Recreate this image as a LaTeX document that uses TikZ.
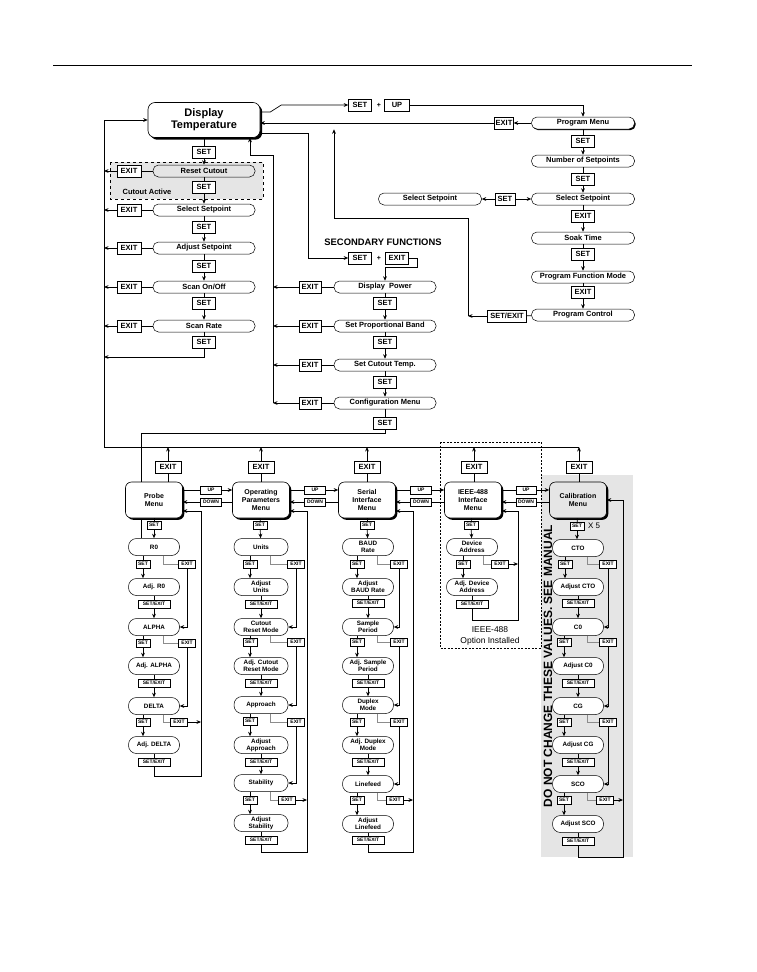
\documentclass[tikz,border=0pt]{standalone}
\usepackage{fontspec}
\setmainfont{Liberation Sans}
\usetikzlibrary{arrows.meta, positioning, shadows, backgrounds}
\tikzstyle{dispmenu} = [rectangle, rounded corners=7pt, draw=black, line width=0.6pt, fill=white,
    minimum width=112pt, minimum height=35pt, align=center, inner sep=1pt,
    font=\fontsize{11}{12}\selectfont\bfseries,
    drop shadow={shadow xshift=2.2pt, shadow yshift=-2.2pt, fill=black, opacity=1}]
\tikzstyle{pill} = [rectangle, rounded corners=5.5pt, draw=black, line width=0.5pt, fill=white,
    minimum width=102pt, minimum height=12pt, inner sep=1pt, font=\fontsize{7.5}{8}\selectfont\bfseries]
\tikzstyle{keybox} = [rectangle, draw=black, line width=0.6pt, fill=white, minimum width=23pt,
    minimum height=12pt, inner sep=1pt, font=\fontsize{7.5}{8}\selectfont\bfseries]
\tikzstyle{menu} = [rectangle, rounded corners=6pt, draw=black, line width=0.6pt, fill=white,
    minimum width=57pt, minimum height=36pt, align=center, inner sep=1pt,
    font=\fontsize{7}{8}\selectfont\bfseries,
    drop shadow={shadow xshift=1.8pt, shadow yshift=-1.8pt, fill=black, opacity=1}]
\tikzstyle{sub} = [rectangle, rounded corners=8pt, draw=black, line width=0.5pt, fill=white,
    minimum width=51pt, minimum height=17pt, align=center, inner sep=1pt,
    font=\fontsize{6.3}{6.8}\selectfont\bfseries]
\tikzstyle{tinykey} = [rectangle, draw=black, line width=0.5pt, fill=white, minimum width=14pt,
    minimum height=7.5pt, inner sep=0.8pt, font=\fontsize{5}{5}\selectfont\bfseries]
\tikzstyle{arrow} = [line width=0.7pt, -{Stealth[length=4.5pt, width=3.8pt]}]
\tikzstyle{link} = [line width=0.7pt]
\tikzstyle{faint} = [draw=black!45, line width=0.6pt]
\tikzstyle{heading} = [font=\fontsize{9.4}{10}\selectfont\bfseries]
\tikzstyle{plain} = [font=\fontsize{7}{8}\selectfont\bfseries, inner sep=0pt]

\begin{document}
\begin{tikzpicture}[x=1pt, y=-1pt]
\useasboundingbox (0,0) rectangle (756,972);
\draw[line width=1pt] (53,65) -- (692,65);

\fill[gray!20] (541,475) rectangle (633,857);
\draw[dashed, fill=gray!20, line width=0.6pt] (110,162) rectangle (263,199);
\draw[line width=0.6pt, dash pattern=on 2pt off 1.5pt] (440,442) rectangle (541,648);
\node (warn) [rotate=90, font=\fontsize{12}{12}\selectfont\bfseries] at (548,666) {DO NOT CHANGE THESE VALUES. SEE MANUAL};
\node (opt) [font=\fontsize{8.5}{11}\selectfont, align=center] at (490,636) {IEEE-488\\Option Installed};

\coordinate (busbot) at (104,447);
\coordinate (busend) at (579,447);
\coordinate (srturn) at (104,357);
\coordinate (secbot) at (273,403);
\coordinate (secturn) at (250,155);
\coordinate (secin) at (308,258);
\coordinate (pcturn) at (468,316);
\coordinate (pcup) at (334,218);
\coordinate (cfgturn) at (141,433);

\node (disp) [dispmenu] at (204,120) {Display\\Temperature};
\node (setA) [keybox] at (204,152) {SET};
\node (rcut) [pill, fill=gray!20] at (204,171) {Reset Cutout};
\node (cutlbl) [plain, font=\fontsize{7.5}{8}\selectfont\bfseries] at (147,192) {Cutout Active};
\node (setB) [keybox] at (204,187) {SET};
\node (selsp) [pill] at (204,210) {Select Setpoint};
\node (setC) [keybox] at (204,227) {SET};
\node (adjsp) [pill] at (204,248) {Adjust Setpoint};
\node (setD) [keybox] at (204,266) {SET};
\node (scan) [pill] at (204,287) {Scan On/Off};
\node (setE) [keybox] at (204,303) {SET};
\node (srate) [pill] at (204,326) {Scan Rate};
\node (setF) [keybox] at (204,342) {SET};
\node (exA) [keybox, minimum width=24pt] at (129,171) {EXIT};
\node (exB) [keybox, minimum width=24pt] at (129,210) {EXIT};
\node (exC) [keybox, minimum width=24pt] at (129,248) {EXIT};
\node (exD) [keybox, minimum width=24pt] at (129,287) {EXIT};
\node (exE) [keybox, minimum width=24pt] at (129,326) {EXIT};

\node (setTop) [keybox] at (360,105) {SET};
\node (plusT) [plain] at (379,105) {+};
\node (upTop) [keybox, minimum width=25pt] at (397,105) {UP};
\node (prog) [pill, minimum width=103pt, drop shadow={shadow xshift=1.2pt, shadow yshift=-1.2pt, fill=black, opacity=1}] at (583,123) {Program Menu};
\node (exitPM) [keybox, minimum width=18pt] at (504,123) {EXIT};
\node (setP1) [keybox] at (583,141) {SET};
\node (numsp) [pill, minimum width=103pt] at (583,161) {Number of Setpoints};
\node (setP2) [keybox] at (583,179) {SET};
\node (selspR) [pill, minimum width=103pt] at (583,199) {Select Setpoint};
\node (setP4) [keybox, minimum width=20pt] at (505,199) {SET};
\node (selspL) [pill, minimum width=103pt] at (430,199) {Select Setpoint};
\node (exitP1) [keybox] at (583,216) {EXIT};
\node (soak) [pill, minimum width=103pt] at (583,238) {Soak Time};
\node (setP3) [keybox] at (583,254) {SET};
\node (pfm) [pill, minimum width=103pt] at (583,277) {Program Function Mode};
\node (exitP2) [keybox] at (583,292) {EXIT};
\node (progctl) [pill, minimum width=103pt] at (583,315) {Program Control};
\node (sePC) [keybox, minimum width=39pt] at (507,316) {SET/EXIT};

\node (sfunc) [heading] at (383,242) {SECONDARY FUNCTIONS};
\node (setSec) [keybox] at (360,258) {SET};
\node (plusS) [plain] at (379,258) {+};
\node (exSec) [keybox] at (397,258) {EXIT};
\node (dpower) [pill] at (385,287) {Display~~Power};
\node (setS1) [keybox] at (385,303) {SET};
\node (propband) [pill] at (385,326) {Set Proportional Band};
\node (setS2) [keybox] at (385,342) {SET};
\node (cutemp) [pill] at (385,365) {Set Cutout Temp.};
\node (setS3) [keybox] at (385,382) {SET};
\node (config) [pill] at (385,403) {Configuration Menu};
\node (setS4) [keybox] at (385,423) {SET};
\node (exS1) [keybox, minimum width=22pt] at (310,287) {EXIT};
\node (exS2) [keybox, minimum width=22pt] at (310,326) {EXIT};
\node (exS3) [keybox, minimum width=22pt] at (310,365) {EXIT};
\node (exS4) [keybox, minimum width=22pt] at (310,403) {EXIT};

\node (probe) [menu] at (154,500) {Probe\\Menu};
\node (opmenu) [menu] at (261,500) {Operating\\Parameters\\Menu};
\node (sermenu) [menu] at (367,500) {Serial\\Interface\\Menu};
\node (ieeemenu) [menu] at (473,500) {IEEE-488\\Interface\\Menu};
\node (calmenu) [menu, fill=gray!20] at (578,500) {Calibration\\Menu};
\node (exPr) [keybox, minimum width=26pt] at (168,467) {EXIT};
\node (exOp) [keybox, minimum width=26pt] at (261,467) {EXIT};
\node (exSe) [keybox, minimum width=26pt] at (367,467) {EXIT};
\node (exIe) [keybox, minimum width=26pt] at (474,467) {EXIT};
\node (exCa) [keybox, minimum width=26pt] at (579,467) {EXIT};
\node (upA) [tinykey, minimum width=21pt] at (211,490) {UP};
\node (downA) [tinykey, minimum width=21pt] at (211,502) {DOWN};
\node (upB) [tinykey, minimum width=21pt] at (315,490) {UP};
\node (downB) [tinykey, minimum width=21pt] at (315,502) {DOWN};
\node (upC) [tinykey, minimum width=21pt] at (421,490) {UP};
\node (downC) [tinykey, minimum width=21pt] at (421,502) {DOWN};
\node (upD) [tinykey, minimum width=20pt] at (526,490) {UP};
\node (downD) [tinykey, minimum width=20pt] at (526,502) {DOWN};

\node (setPr) [tinykey] at (154,525) {SET};
\node (rzero) [sub] at (154,547) {R0};
\node (setRz) [tinykey] at (143,564) {SET};
\node (exRz) [tinykey, minimum width=17pt] at (187,564) {EXIT};
\node (adjRz) [sub] at (154,587) {Adj. R0};
\node (seRz) [tinykey, minimum width=32pt] at (154,604) {SET/EXIT};
\node (alpha) [sub] at (154,627) {ALPHA};
\node (setAl) [tinykey] at (143,643) {SET};
\node (exAl) [tinykey, minimum width=17pt] at (187,643) {EXIT};
\node (adjAl) [sub] at (154,666) {Adj. ALPHA};
\node (seAl) [tinykey, minimum width=32pt] at (154,683) {SET/EXIT};
\node (delta) [sub] at (154,706) {DELTA};
\node (setDl) [tinykey] at (143,722) {SET};
\node (exDl) [tinykey, minimum width=17pt] at (179,722) {EXIT};
\node (adjDl) [sub] at (154,745) {Adj. DELTA};
\node (seDl) [tinykey, minimum width=32pt] at (154,762) {SET/EXIT};
\coordinate (prret) at (201,511);

\node (setOp) [tinykey] at (260,525) {SET};
\node (units) [sub, minimum width=54pt] at (261,547) {Units};
\node (setUn) [tinykey] at (250,564) {SET};
\node (exUn) [tinykey, minimum width=17pt] at (296,564) {EXIT};
\node (adjUn) [sub, minimum width=54pt] at (261,587) {Adjust\\Units};
\node (seUn) [tinykey, minimum width=32pt] at (261,604) {SET/EXIT};
\node (crm) [sub, minimum width=54pt] at (261,627) {Cutout\\Reset Mode};
\node (setCr) [tinykey] at (250,642) {SET};
\node (exCr) [tinykey, minimum width=17pt] at (296,642) {EXIT};
\node (adjCr) [sub, minimum width=54pt] at (261,666) {Adj. Cutout\\Reset Mode};
\node (seCr) [tinykey, minimum width=32pt] at (261,683) {SET/EXIT};
\node (appr) [sub, minimum width=54pt] at (261,705) {Approach};
\node (setAp) [tinykey] at (250,721) {SET};
\node (exAp) [tinykey, minimum width=17pt] at (296,722) {EXIT};
\node (adjAp) [sub, minimum width=54pt] at (261,745) {Adjust\\Approach};
\node (seAp) [tinykey, minimum width=32pt] at (261,762) {SET/EXIT};
\node (stab) [sub, minimum width=54pt] at (261,783) {Stability};
\node (setSt) [tinykey] at (250,800) {SET};
\node (exSt) [tinykey, minimum width=17pt] at (287,800) {EXIT};
\node (adjSt) [sub, minimum width=54pt] at (261,823) {Adjust\\Stability};
\node (seSt) [tinykey, minimum width=32pt] at (261,840) {SET/EXIT};
\coordinate (opret) at (307,511);

\node (setSr) [tinykey] at (367,525) {SET};
\node (baud) [sub] at (368,547) {BAUD\\Rate};
\node (setBd) [tinykey] at (357,564) {SET};
\node (exBd) [tinykey, minimum width=17pt] at (399,564) {EXIT};
\node (adjBd) [sub] at (368,587) {Adjust\\BAUD Rate};
\node (seBd) [tinykey, minimum width=32pt] at (368,603) {SET/EXIT};
\node (samp) [sub] at (368,627) {Sample\\Period};
\node (setSm) [tinykey] at (357,642) {SET};
\node (exSm) [tinykey, minimum width=17pt] at (399,642) {EXIT};
\node (adjSm) [sub] at (368,666) {Adj. Sample\\Period};
\node (seSm) [tinykey, minimum width=32pt] at (368,683) {SET/EXIT};
\node (dup) [sub] at (368,705) {Duplex\\Mode};
\node (setDp) [tinykey] at (357,722) {SET};
\node (exDp) [tinykey, minimum width=17pt] at (399,722) {EXIT};
\node (adjDp) [sub] at (368,745) {Adj. Duplex\\Mode};
\node (seDp) [tinykey, minimum width=32pt] at (368,762) {SET/EXIT};
\node (lfeed) [sub] at (368,784) {Linefeed};
\node (setLf) [tinykey] at (357,800) {SET};
\node (exLf) [tinykey, minimum width=17pt] at (395,800) {EXIT};
\node (adjLf) [sub] at (368,824) {Adjust\\Linefeed};
\node (seLf) [tinykey, minimum width=32pt] at (368,840) {SET/EXIT};
\coordinate (srret) at (413,511);

\node (setIe) [tinykey] at (471,525) {SET};
\node (devad) [sub] at (472,547) {Device\\Address};
\node (setDv) [tinykey] at (463,564) {SET};
\node (exDv) [tinykey, minimum width=17pt] at (500,564) {EXIT};
\node (adjDv) [sub] at (472,587) {Adj. Device\\Address};
\node (seDv) [tinykey, minimum width=32pt] at (472,604) {SET/EXIT};
\coordinate (ieret) at (518,511);

\node (setCa) [tinykey] at (577,526) {SET};
\node (xfive) [font=\fontsize{8}{8}\selectfont, inner sep=0pt] at (594,526) {X 5};
\node (cto) [sub] at (578,548) {CTO};
\node (setCt) [tinykey] at (565,564) {SET};
\node (exCt) [tinykey, minimum width=17pt] at (608,564) {EXIT};
\node (adjCt) [sub] at (578,587) {Adjust CTO};
\node (seCt) [tinykey, minimum width=32pt] at (578,603) {SET/EXIT};
\node (czero) [sub] at (578,627) {C0};
\node (setCz) [tinykey] at (564,642) {SET};
\node (exCz) [tinykey, minimum width=17pt] at (608,642) {EXIT};
\node (adjCz) [sub] at (578,666) {Adjust C0};
\node (seCz) [tinykey, minimum width=32pt] at (578,683) {SET/EXIT};
\node (cgain) [sub] at (578,706) {CG};
\node (setCg) [tinykey] at (564,722) {SET};
\node (exCg) [tinykey, minimum width=17pt] at (608,722) {EXIT};
\node (adjCg) [sub] at (578,745) {Adjust CG};
\node (seCg) [tinykey, minimum width=32pt] at (578,762) {SET/EXIT};
\node (sco) [sub] at (578,784) {SCO};
\node (setSc) [tinykey] at (564,800) {SET};
\node (exSc) [tinykey, minimum width=17pt] at (605,800) {EXIT};
\node (adjSc) [sub] at (578,824) {Adjust SCO};
\node (seSc) [tinykey, minimum width=32pt] at (578,841) {SET/EXIT};
\coordinate (caret) at (623,500);

\begin{scope}[on background layer]
\draw[link] (setS4) |- (cfgturn) -- (cfgturn |- rzero.north);
\end{scope}

\draw[link] (busbot) -- (busend);
\draw[arrow] (busbot) |- (disp.west);
\draw[link] (disp) -- (setA);
\draw[arrow] (setA) -- (rcut);
\draw[link] (rcut) -- (setB);
\draw[arrow] (setB) -- (selsp);
\draw[link] (selsp) -- (setC);
\draw[arrow] (setC) -- (adjsp);
\draw[link] (adjsp) -- (setD);
\draw[arrow] (setD) -- (scan);
\draw[link] (scan) -- (setE);
\draw[arrow] (setE) -- (srate);
\draw[link] (srate) -- (setF);
\draw[arrow] (setF) |- (srturn);
\draw[link] (rcut) -- (exA);
\draw[link] (selsp) -- (exB);
\draw[link] (adjsp) -- (exC);
\draw[link] (scan) -- (exD);
\draw[link] (srate) -- (exE);
\draw[arrow] (exA) -- (exA -| busbot);
\draw[arrow] (exB) -- (exB -| busbot);
\draw[arrow] (exC) -- (exC -| busbot);
\draw[arrow] (exD) -- (exD -| busbot);
\draw[arrow] (exE) -- (exE -| busbot);

\draw[arrow] ([yshift=8pt]disp.east) -- ++(10,0) -- ++(11,-7) -- (setTop);
\draw[arrow] (upTop) -| (prog);
\draw[arrow] (prog) -- (exitPM);
\draw[arrow] (exitPM) -- (exitPM -| disp.east);
\draw[link] (prog) -- (setP1);
\draw[arrow] (setP1) -- (numsp);
\draw[link] (numsp) -- (setP2);
\draw[arrow] (setP2) -- (selspR);
\draw[arrow] (setP4) -- (selspR);
\draw[arrow] (setP4) -- (selspL);
\draw[link] (selspR) -- (exitP1);
\draw[arrow] (exitP1) -- (soak);
\draw[link] (soak) -- (setP3);
\draw[arrow] (setP3) -- (pfm);
\draw[link] (pfm) -- (exitP2);
\draw[arrow] (exitP2) -- (progctl);
\draw[link] (progctl) -- (sePC);
\draw[arrow] (sePC) -- (pcturn);
\draw[arrow] (pcturn) |- (pcup) -- (pcup |- exitPM.south);

\draw[arrow] ([yshift=-13pt]disp.east) -| (secin) -- (setSec);
\draw[arrow] (exSec.east) -- ++(9,0) -- ++(0,9) -| (dpower);
\draw[link] (dpower) -- (setS1);
\draw[arrow] (setS1) -- (propband);
\draw[link] (propband) -- (setS2);
\draw[arrow] (setS2) -- (cutemp);
\draw[link] (cutemp) -- (setS3);
\draw[arrow] (setS3) -- (config);
\draw[link] (config) -- (setS4);
\draw[link] (dpower) -- (exS1);
\draw[link] (propband) -- (exS2);
\draw[link] (cutemp) -- (exS3);
\draw[link] (config) -- (exS4);
\draw[arrow] (exS1) -- (exS1 -| secbot);
\draw[arrow] (exS2) -- (exS2 -| secbot);
\draw[arrow] (exS3) -- (exS3 -| secbot);
\draw[arrow] (exS4) -- (exS4 -| secbot);
\draw[arrow] (secbot) |- (secturn) -- (secturn |- disp.south);

\draw[link] (exPr.south) -- (exPr.south |- probe.north);
\draw[link] (exOp.south) -- (exOp.south |- opmenu.north);
\draw[link] (exSe.south) -- (exSe.south |- sermenu.north);
\draw[link] (exIe.south) -- (exIe.south |- ieeemenu.north);
\draw[link] (exCa.south) -- (exCa.south |- calmenu.north);
\draw[arrow] (exPr) -- (exPr |- busbot);
\draw[arrow] (exOp) -- (exOp |- busbot);
\draw[arrow] (exSe) -- (exSe |- busbot);
\draw[arrow] (exIe) -- (exIe |- busbot);
\draw[arrow] (exCa) -- (exCa |- busbot);

\draw[link] (upA -| probe.east) -- (upA);
\draw[arrow] (upA) -- (upA -| opmenu.west);
\draw[link] (downA -| opmenu.west) -- (downA);
\draw[arrow] (downA) -- (downA -| probe.east);
\draw[link] (upB -| opmenu.east) -- (upB);
\draw[arrow] (upB) -- (upB -| sermenu.west);
\draw[link] (downB -| sermenu.west) -- (downB);
\draw[arrow] (downB) -- (downB -| opmenu.east);
\draw[link] (upC -| sermenu.east) -- (upC);
\draw[arrow] (upC) -- (upC -| ieeemenu.west);
\draw[link] (downC -| ieeemenu.west) -- (downC);
\draw[arrow] (downC) -- (downC -| sermenu.east);
\draw[link] (upD -| ieeemenu.east) -- (upD);
\draw[arrow] (upD) -- (upD -| calmenu.west);
\draw[link] (downD -| calmenu.west) -- (downD);
\draw[arrow] (downD) -- (downD -| ieeemenu.east);

\draw[link] (probe) -- (setPr);
\draw[arrow] (setPr) -- (rzero);
\draw[link] (rzero.south -| setRz) -- (setRz);
\draw[arrow] (setRz) -- (setRz |- adjRz.north);
\draw[faint] ([xshift=9pt]rzero.south) |- (exRz);
\draw[arrow] (exRz) |- (alpha);
\draw[link] (adjRz) -- (seRz);
\draw[arrow] (seRz) -- (alpha);
\draw[link] (alpha.south -| setAl) -- (setAl);
\draw[arrow] (setAl) -- (setAl |- adjAl.north);
\draw[faint] ([xshift=9pt]alpha.south) |- (exAl);
\draw[arrow] (exAl) |- (delta);
\draw[link] (adjAl) -- (seAl);
\draw[arrow] (seAl) -- (delta);
\draw[link] (delta.south -| setDl) -- (setDl);
\draw[arrow] (setDl) -- (setDl |- adjDl.north);
\draw[faint] ([xshift=9pt]delta.south) |- (exDl);
\draw[arrow] (exDl) -- (exDl -| prret);
\draw[link] (adjDl) -- (seDl);
\draw[arrow] (seDl.south) -- ++(0,10) -| (prret) -- (prret -| probe.east);

\draw[link] (opmenu) -- (setOp);
\draw[arrow] (setOp) -- (units);
\draw[link] (units.south -| setUn) -- (setUn);
\draw[arrow] (setUn) -- (setUn |- adjUn.north);
\draw[faint] ([xshift=9pt]units.south) |- (exUn);
\draw[arrow] (exUn) |- (crm);
\draw[link] (adjUn) -- (seUn);
\draw[arrow] (seUn) -- (crm);
\draw[link] (crm.south -| setCr) -- (setCr);
\draw[arrow] (setCr) -- (setCr |- adjCr.north);
\draw[faint] ([xshift=9pt]crm.south) |- (exCr);
\draw[arrow] (exCr) |- (appr);
\draw[link] (adjCr) -- (seCr);
\draw[arrow] (seCr) -- (appr);
\draw[link] (appr.south -| setAp) -- (setAp);
\draw[arrow] (setAp) -- (setAp |- adjAp.north);
\draw[faint] ([xshift=9pt]appr.south) |- (exAp);
\draw[arrow] (exAp) |- (stab);
\draw[link] (adjAp) -- (seAp);
\draw[arrow] (seAp) -- (stab);
\draw[link] (stab.south -| setSt) -- (setSt);
\draw[arrow] (setSt) -- (setSt |- adjSt.north);
\draw[faint] ([xshift=9pt]stab.south) |- (exSt);
\draw[arrow] (exSt) -- (exSt -| opret);
\draw[link] (adjSt) -- (seSt);
\draw[arrow] (seSt.south) -- ++(0,8) -| (opret) -- (opret -| opmenu.east);

\draw[link] (sermenu) -- (setSr);
\draw[arrow] (setSr) -- (baud);
\draw[link] (baud.south -| setBd) -- (setBd);
\draw[arrow] (setBd) -- (setBd |- adjBd.north);
\draw[faint] ([xshift=9pt]baud.south) |- (exBd);
\draw[arrow] (exBd) |- (samp);
\draw[link] (adjBd) -- (seBd);
\draw[arrow] (seBd) -- (samp);
\draw[link] (samp.south -| setSm) -- (setSm);
\draw[arrow] (setSm) -- (setSm |- adjSm.north);
\draw[faint] ([xshift=9pt]samp.south) |- (exSm);
\draw[arrow] (exSm) |- (dup);
\draw[link] (adjSm) -- (seSm);
\draw[arrow] (seSm) -- (dup);
\draw[link] (dup.south -| setDp) -- (setDp);
\draw[arrow] (setDp) -- (setDp |- adjDp.north);
\draw[faint] ([xshift=9pt]dup.south) |- (exDp);
\draw[arrow] (exDp) |- (lfeed);
\draw[link] (adjDp) -- (seDp);
\draw[arrow] (seDp) -- (lfeed);
\draw[link] (lfeed.south -| setLf) -- (setLf);
\draw[arrow] (setLf) -- (setLf |- adjLf.north);
\draw[faint] ([xshift=9pt]lfeed.south) |- (exLf);
\draw[arrow] (exLf) -- (exLf -| srret);
\draw[link] (adjLf) -- (seLf);
\draw[arrow] (seLf.south) -- ++(0,8) -| (srret) -- (srret -| sermenu.east);

\draw[link] (ieeemenu) -- (setIe);
\draw[arrow] (setIe) -- (devad);
\draw[link] (devad.south -| setDv) -- (setDv);
\draw[arrow] (setDv) -- (setDv |- adjDv.north);
\draw[faint] ([xshift=11pt]devad.south) |- (exDv);
\draw[arrow] (exDv) -- (exDv -| ieret);
\draw[link] (adjDv) -- (seDv);
\draw[arrow] (seDv.south) -- ++(0,12) -| (ieret) -- (ieret -| ieeemenu.east);

\draw[link] (calmenu) -- (setCa);
\draw[arrow] (setCa) -- (setCa |- cto.north);
\draw[link] (cto.south -| setCt) -- (setCt);
\draw[arrow] (setCt) -- (setCt |- adjCt.north);
\draw[faint] ([xshift=9pt]cto.south) |- (exCt);
\draw[arrow] (exCt) |- (czero);
\draw[link] (adjCt) -- (seCt);
\draw[arrow] (seCt) -- (czero);
\draw[link] (czero.south -| setCz) -- (setCz);
\draw[arrow] (setCz) -- (setCz |- adjCz.north);
\draw[faint] ([xshift=9pt]czero.south) |- (exCz);
\draw[arrow] (exCz) |- (cgain);
\draw[link] (adjCz) -- (seCz);
\draw[arrow] (seCz) -- (cgain);
\draw[link] (cgain.south -| setCg) -- (setCg);
\draw[arrow] (setCg) -- (setCg |- adjCg.north);
\draw[faint] ([xshift=9pt]cgain.south) |- (exCg);
\draw[arrow] (exCg) |- (sco);
\draw[link] (adjCg) -- (seCg);
\draw[arrow] (seCg) -- (sco);
\draw[link] (sco.south -| setSc) -- (setSc);
\draw[arrow] (setSc) -- (setSc |- adjSc.north);
\draw[faint] ([xshift=9pt]sco.south) |- (exSc);
\draw[arrow] (exSc) -- (exSc -| caret);
\draw[link] (adjSc) -- (seSc);
\draw[arrow] (seSc.south) -- ++(0,12) -| (caret) -- (caret -| calmenu.east);
\end{tikzpicture}
\end{document}
